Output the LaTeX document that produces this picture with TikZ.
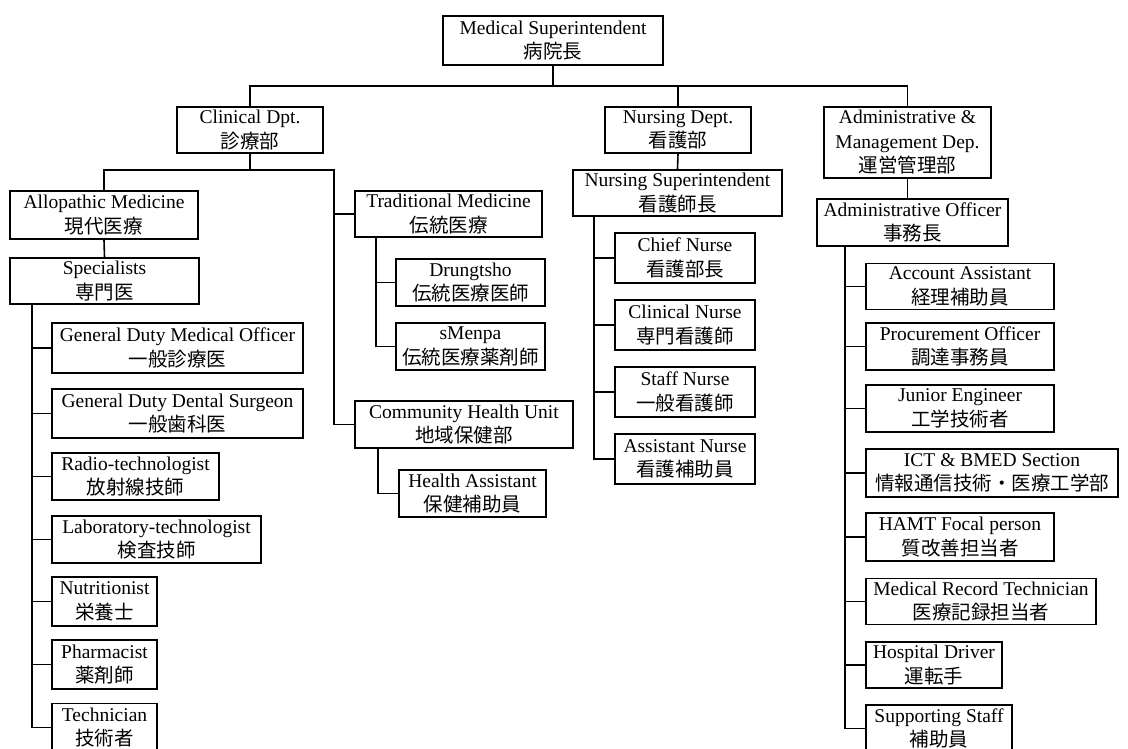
\documentclass[tikz,border=0pt]{standalone}
\usepackage{fontspec}
\setmainfont{Liberation Serif}
\newfontfamily\jp{Noto Sans CJK JP}
\begin{document}
\begin{tikzpicture}[x=1pt,y=-1pt,
  box/.style={draw, line width=1.6pt, inner sep=0pt, align=center,
    font=\fontsize{19.5}{24.5}\selectfont},
  link/.style={line width=1.6pt}]
\useasboundingbox (0,0) rectangle (1128,749);
% top
\node[box, minimum width=220, minimum height=49] (ms) at (553,40.5) {Medical Superintendent\\{\jp 病院長}};
\node[box, minimum width=146, minimum height=46] (clin) at (250,130) {Clinical Dpt.\\{\jp 診療部}};
\node[box, minimum width=146, minimum height=46] (nurd) at (678,130) {Nursing Dept.\\{\jp 看護部}};
\node[box, minimum width=167, minimum height=71] (adm) at (907.5,142.5) {Administrative \&\\Management Dep.\\{\jp 運営管理部}};
% clinical
\node[box, minimum width=188, minimum height=48] (allo) at (104,215) {Allopathic Medicine\\{\jp 現代医療}};
\node[box, minimum width=187, minimum height=46] (trad) at (448.5,214) {Traditional Medicine\\{\jp 伝統医療}};
\node[box, minimum width=189, minimum height=46] (spec) at (104.5,281) {Specialists\\{\jp 専門医}};
\node[box, minimum width=149, minimum height=47] (drung) at (470.5,282.5) {Drungtsho\\{\jp 伝統医療医師}};
\node[box, minimum width=149, minimum height=47] (smen) at (470.5,346.5) {sMenpa\\{\jp 伝統医療薬剤師}};
\node[box, minimum width=218, minimum height=47] (comm) at (464,424.5) {Community Health Unit\\{\jp 地域保健部}};
\node[box, minimum width=147, minimum height=47] (ha) at (472.5,493.5) {Health Assistant\\{\jp 保健補助員}};
\node[box, minimum width=251, minimum height=50] (gdmo) at (177.5,348) {General Duty Medical Officer\\{\jp 一般診療医}};
\node[box, minimum width=251, minimum height=49] (gdds) at (177.5,413.5) {General Duty Dental Surgeon\\{\jp 一般歯科医}};
\node[box, minimum width=167, minimum height=47] (radio) at (135.5,476.5) {Radio-technologist\\{\jp 放射線技師}};
\node[box, minimum width=209, minimum height=47] (lab) at (156.5,539.5) {Laboratory-technologist\\{\jp 検査技師}};
\node[box, minimum width=105, minimum height=49] (nutr) at (104.5,601.5) {Nutritionist\\{\jp 栄養士}};
\node[box, minimum width=105, minimum height=49] (pharm) at (104.5,664.5) {Pharmacist\\{\jp 薬剤師}};
\node[box, minimum width=105, minimum height=48] (tech) at (104.5,727.5) {Technician\\{\jp 技術者}};
% nursing
\node[box, minimum width=209, minimum height=46] (nsup) at (677.5,193) {Nursing Superintendent\\{\jp 看護師長}};
\node[box, minimum width=140, minimum height=50] (chief) at (685,258) {Chief Nurse\\{\jp 看護部長}};
\node[box, minimum width=140, minimum height=50] (cnurse) at (685,325) {Clinical Nurse\\{\jp 専門看護師}};
\node[box, minimum width=140, minimum height=50] (snurse) at (685,392) {Staff Nurse\\{\jp 一般看護師}};
\node[box, minimum width=140, minimum height=50] (anurse) at (685,459) {Assistant Nurse\\{\jp 看護補助員}};
% admin
\node[box, minimum width=191, minimum height=47] (aoff) at (912.5,222.5) {Administrative Officer\\{\jp 事務長}};
\node[box, minimum width=188, minimum height=46] (acc) at (960,286.5) {Account Assistant\\{\jp 経理補助員}};
\node[box, minimum width=188, minimum height=47] (proc) at (960,346.5) {Procurement Officer\\{\jp 調達事務員}};
\node[box, minimum width=188, minimum height=47] (jeng) at (960,408.5) {Junior Engineer\\{\jp 工学技術者}};
\node[box, minimum width=252, minimum height=48] (ict) at (992,473) {ICT \& BMED Section\\{\jp 情報通信技術・医療工学部}};
\node[box, minimum width=188, minimum height=48] (hamt) at (960,537) {HAMT Focal person\\{\jp 質改善担当者}};
\node[box, minimum width=230, minimum height=46] (mrec) at (981,601.5) {Medical Record Technician\\{\jp 医療記録担当者}};
\node[box, minimum width=136, minimum height=46] (driver) at (934,665) {Hospital Driver\\{\jp 運転手}};
\node[box, minimum width=146, minimum height=47] (supp) at (939,728.5) {Supporting Staff\\{\jp 補助員}};
% connectors: top bus
\coordinate (busy) at (0,86);
\draw[link] (clin.north) -- (clin.north |- busy) -- (adm.north |- busy) -- (adm.north);
\draw[link] (ms.south) -- (ms.south |- busy);
\draw[link] (nurd.north) -- (nurd.north |- busy);
% clinical
\coordinate (tj) at (334,170);
\draw[link] (clin.south) -- (clin.south |- tj);
\draw[link] (allo.north) |- (tj) |- (comm.west);
\draw[link] (tj |- trad.west) -- (trad.west);
\draw[link] (allo.south) -- (spec.north);
\coordinate (spv) at (32,304);
\draw[link] (spv) |- (tech.west);
\foreach \n in {gdmo,gdds,radio,lab,nutr,pharm}
  \draw[link] (spv |- \n.west) -- (\n.west);
\coordinate (tv) at (376,237);
\draw[link] (tv) |- (smen.west);
\draw[link] (tv |- drung.west) -- (drung.west);
\coordinate (cv) at (378,448);
\draw[link] (cv) |- (ha.west);
% nursing
\draw[link] (nurd.south) -- (nsup.north);
\coordinate (nv) at (594,216);
\draw[link] (nv) |- (anurse.west);
\foreach \n in {chief,cnurse,snurse}
  \draw[link] (nv |- \n.west) -- (\n.west);
% admin
\draw[link] (adm.south) -- (adm.south |- aoff.north);
\coordinate (av) at (845,246);
\draw[link] (av) |- (supp.west);
\foreach \n in {acc,proc,jeng,ict,hamt,mrec,driver}
  \draw[link] (av |- \n.west) -- (\n.west);
\end{tikzpicture}
\end{document}
